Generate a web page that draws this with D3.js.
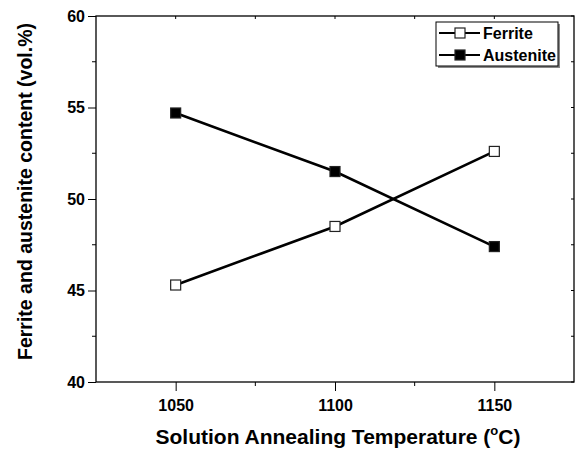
<!DOCTYPE html>
<html>
<head>
<meta charset="utf-8">
<script src="https://d3js.org/d3.v7.min.js"></script>
<style>
  body { margin: 0; background: #fff; }
  text { font-family: "Liberation Sans", Arial, sans-serif; font-weight: bold; fill: #000; }
</style>
</head>
<body>
<div id="chart"></div>
<script>
// data
var temps = [1050, 1100, 1150]
var ferrite = [45.3, 48.5, 52.6]
var austenite = [54.7, 51.5, 47.4]
var xTicks = [1050, 1100, 1150]
var xMinor = [1075, 1125]
var yTicks = [40, 45, 50, 55, 60]
var yMinor = [42.5, 47.5, 52.5, 57.5]
var seriesNames = ['Ferrite', 'Austenite']

var W = 576, H = 453
// plot box (note: 'top' is taken by window.top)
var pL = 96, pR = 574, pT = 16, pB = 382

var svg = d3.select('#chart').append('svg').attr('width', W).attr('height', H)

var x = d3.scaleLinear().domain([1025, 1175]).range([pL, pR])
var y = d3.scaleLinear().domain([40, 60]).range([pB, pT])

// frame
svg.append('rect')
    .attr('x', pL).attr('y', pT)
    .attr('width', pR - pL).attr('height', pB - pT)
    .attr('fill', 'none').attr('stroke', '#000').attr('stroke-width', 1.3)

// bottom axis
var gx = svg.append('g').attr('transform', 'translate(0,' + pB + ')')
gx.call(d3.axisBottom(x).tickValues(xTicks).tickSize(9).tickPadding(9).tickFormat(d3.format('d')))
gx.selectAll('.tick text').style('font-size', '16px').attr('font-family', null)
gx.append('g').selectAll('line').data(xMinor).join('line')
    .attr('x1', d => x(d)).attr('x2', d => x(d)).attr('y1', 0).attr('y2', 4).attr('stroke', '#000')

// left axis
var gy = svg.append('g').attr('transform', 'translate(' + pL + ',0)')
gy.call(d3.axisLeft(y).tickValues(yTicks).tickSize(8).tickPadding(3))
gy.selectAll('.tick text').style('font-size', '16px').attr('font-family', null)
gy.append('g').selectAll('line').data(yMinor).join('line')
    .attr('y1', d => y(d)).attr('y2', d => y(d)).attr('x1', 0).attr('x2', -4).attr('stroke', '#000')

svg.selectAll('.domain').remove()

// top + right inner ticks
svg.append('g').selectAll('line').data(xTicks.concat(xMinor)).join('line')
    .attr('x1', d => x(d)).attr('x2', d => x(d)).attr('y1', pT).attr('y2', pT + 3).attr('stroke', '#000')
svg.append('g').selectAll('line').data(yTicks.concat(yMinor)).join('line')
    .attr('y1', d => y(d)).attr('y2', d => y(d)).attr('x1', pR).attr('x2', pR - 3).attr('stroke', '#000')

// axis titles
var xt = svg.append('text')
    .attr('x', (pL + pR) / 2 + 3).attr('y', 444)
    .attr('text-anchor', 'middle').style('font-size', '21px')
xt.append('tspan').text('Solution Annealing Temperature (')
xt.append('tspan').text('o').style('font-size', '13px').attr('dy', -9)
xt.append('tspan').text('C)').attr('dy', 9)

svg.append('text')
    .attr('transform', 'translate(31.5,191.5) rotate(-90)')
    .attr('text-anchor', 'middle').style('font-size', '19.5px')
    .text('Ferrite and austenite content (vol.%)')

// lines + markers
var line = d3.line().x((d, i) => x(temps[i])).y(d => y(d))
var series = [ferrite, austenite]
var fills = ['#fff', '#000']

series.forEach(function(vals, k) {
    svg.append('path').datum(vals).attr('d', line)
        .attr('fill', 'none').attr('stroke', '#000').attr('stroke-width', 2.6)
    svg.append('g').selectAll('rect').data(vals).join('rect')
        .attr('x', (d, i) => x(temps[i]) - 5).attr('y', d => y(d) - 5)
        .attr('width', 10).attr('height', 10)
        .attr('fill', fills[k]).attr('stroke', '#222').attr('stroke-width', 1.2)
})

// legend
var lg = svg.append('g')
lg.append('rect').attr('x', 438).attr('y', 24).attr('width', 122).attr('height', 44).attr('fill', '#888')
lg.append('rect').attr('x', 436).attr('y', 22).attr('width', 122).attr('height', 44)
    .attr('fill', '#fff').attr('stroke', '#000').attr('stroke-width', 1)
seriesNames.forEach(function(name, k) {
    var cy = 33 + k * 22
    lg.append('line').attr('x1', 439).attr('x2', 480).attr('y1', cy).attr('y2', cy)
        .attr('stroke', '#000').attr('stroke-width', 2.2)
    lg.append('rect').attr('x', 455).attr('y', cy - 5).attr('width', 10).attr('height', 10)
        .attr('fill', fills[k]).attr('stroke', '#222').attr('stroke-width', 1.2)
    lg.append('text').attr('x', 483).attr('y', cy + 6).style('font-size', '16px').text(name)
})
</script>
</body>
</html>
